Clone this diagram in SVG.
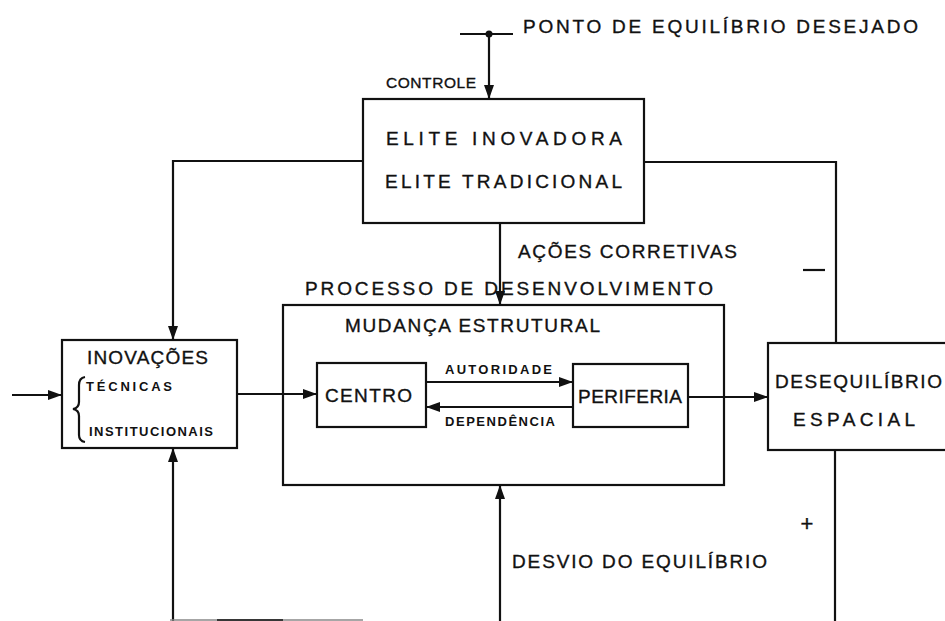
<svg xmlns="http://www.w3.org/2000/svg" width="945" height="621" viewBox="0 0 945 621">
<style>
.box{fill:#fff;stroke:#111;stroke-width:2.2}
.ln{fill:none;stroke:#111;stroke-width:2.2}
.t{font-family:"Liberation Sans","DejaVu Sans",sans-serif;fill:#111;font-size:19px;stroke:#111;stroke-width:0.35}
.s{font-family:"Liberation Sans","DejaVu Sans",sans-serif;fill:#111;font-size:13px;font-weight:bold}
</style>
<defs>
<marker id="ah" viewBox="0 0 14 10" refX="14" refY="5" markerWidth="14" markerHeight="10" markerUnits="userSpaceOnUse" orient="auto">
<path d="M0,0 L14,5 L0,10 Z" fill="#111"/>
</marker>
</defs>
<rect width="945" height="621" fill="#fff"/>

<g id="elite">
<rect class="box" x="363" y="99" width="281" height="124"/>
<text class="t" x="386" y="145" textLength="236" lengthAdjust="spacing">ELITE  INOVADORA</text>
<text class="t" x="385" y="188" textLength="237" lengthAdjust="spacing">ELITE TRADICIONAL</text>
</g>

<g id="processo">
<rect class="box" x="283" y="305" width="441" height="180"/>
<text class="t" x="345" y="332" textLength="255" lengthAdjust="spacing">MUDANÇA   ESTRUTURAL</text>
</g>

<g id="inovacoes">
<rect class="box" x="62" y="340" width="175" height="108"/>
<text class="t" x="87" y="364" textLength="121" lengthAdjust="spacing">INOVAÇÕES</text>
<path class="ln" d="M85,377 Q79,378 79,385 L79,402 Q79,408 73,409 Q79,410 79,416 L79,435 Q79,441 85,442" stroke-width="1.8"/>
<text class="s" x="86" y="391" textLength="86" lengthAdjust="spacing">TÉCNICAS</text>
<text class="s" x="89" y="436" textLength="124" lengthAdjust="spacing">INSTITUCIONAIS</text>
</g>

<g id="centro">
<rect class="box" x="317" y="363" width="109" height="64"/>
<text class="t" x="325" y="402" textLength="87" lengthAdjust="spacing">CENTRO</text>
</g>

<g id="periferia">
<rect class="box" x="573" y="364" width="115" height="63"/>
<text class="t" x="578" y="403" textLength="104" lengthAdjust="spacing">PERIFERIA</text>
</g>

<g id="desequilibrio">
<rect class="box" x="768" y="343" width="190" height="107"/>
<text class="t" x="775" y="388" textLength="167" lengthAdjust="spacing">DESEQUILÍBRIO</text>
<text class="t" x="793" y="426" textLength="122" lengthAdjust="spacing">ESPACIAL</text>
</g>

<g id="connectors">
<line class="ln" x1="460" y1="34" x2="513" y2="34"/>
<circle cx="489" cy="34" r="3.5" fill="#111"/>
<line class="ln" x1="489" y1="34" x2="489" y2="99" marker-end="url(#ah)"/>
<polyline class="ln" points="363,161 173,161 173,340" marker-end="url(#ah)"/>
<polyline class="ln" points="644,162 836,162 836,343"/>
<line class="ln" x1="500" y1="223" x2="500" y2="305" marker-end="url(#ah)"/>
<line class="ln" x1="12" y1="395" x2="62" y2="395" marker-end="url(#ah)"/>
<line class="ln" x1="237" y1="394" x2="317" y2="394" marker-end="url(#ah)"/>
<line class="ln" x1="426" y1="382" x2="573" y2="382" marker-end="url(#ah)"/>
<line class="ln" x1="573" y1="407" x2="426" y2="407" marker-end="url(#ah)"/>
<line class="ln" x1="688" y1="397" x2="768" y2="397" marker-end="url(#ah)"/>
<line class="ln" x1="173" y1="621" x2="173" y2="448" marker-end="url(#ah)"/>
<line class="ln" x1="500" y1="621" x2="500" y2="485" marker-end="url(#ah)"/>
<line class="ln" x1="835" y1="450" x2="835" y2="621"/>
<line x1="170" y1="620" x2="363" y2="620" stroke="#888" stroke-width="1.5"/>
<line x1="217" y1="620" x2="283" y2="620" stroke="#111" stroke-width="1.5"/>
<line class="ln" x1="803" y1="270" x2="825" y2="270"/>
<text class="t" x="807" y="531" text-anchor="middle" style="font-size:22px">+</text>
<text class="t" x="523" y="33" textLength="395" lengthAdjust="spacing">PONTO DE EQUILÍBRIO DESEJADO</text>
<text class="t" x="386" y="88" textLength="90" lengthAdjust="spacing" style="font-size:15.5px">CONTROLE</text>
<text class="t" x="518" y="258" textLength="219" lengthAdjust="spacing">AÇÕES CORRETIVAS</text>
<text class="t" x="305" y="295" textLength="408" lengthAdjust="spacing">PROCESSO  DE  DESENVOLVIMENTO</text>
<text class="s" x="445" y="374" textLength="107" lengthAdjust="spacing">AUTORIDADE</text>
<text class="s" x="445" y="426" textLength="110" lengthAdjust="spacing">DEPENDÊNCIA</text>
<text class="t" x="512" y="568" textLength="255" lengthAdjust="spacing">DESVIO  DO EQUILÍBRIO</text>
</g>
</svg>
